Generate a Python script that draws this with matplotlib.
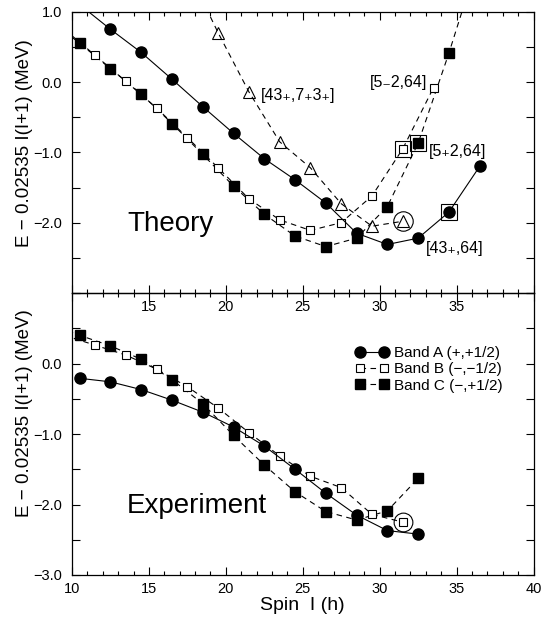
import numpy as np
import matplotlib
matplotlib.use("Agg")
import matplotlib.pyplot as plt
from matplotlib.ticker import MultipleLocator

plt.rcParams['font.family'] = ['Liberation Sans', 'DejaVu Sans']
plt.rcParams['axes.unicode_minus'] = True

# theory (cranking calculation)
th_a_spin = [10.5, 12.5, 14.5, 16.5, 18.5, 20.5, 22.5, 24.5, 26.5, 28.5, 30.5, 32.5, 34.5, 36.5]
th_a_e = [1.10, 0.75, 0.42, 0.04, -0.35, -0.73, -1.09, -1.39, -1.72, -2.15, -2.31, -2.22, -1.85, -1.20]
th_b_spin = [9.5, 11.5, 13.5, 15.5, 17.5, 19.5, 21.5, 23.5, 25.5, 27.5, 29.5, 31.5, 33.5]
th_b_e = [0.75, 0.38, 0.01, -0.37, -0.79, -1.22, -1.66, -1.96, -2.11, -2.00, -1.62, -0.95, -0.08]
th_c_spin = [8.5, 10.5, 12.5, 14.5, 16.5, 18.5, 20.5, 22.5, 24.5, 26.5, 28.5, 30.5, 32.5, 34.5, 36.5]
th_c_e = [0.90, 0.55, 0.19, -0.17, -0.59, -1.03, -1.48, -1.88, -2.19, -2.34, -2.22, -1.77, -0.87, 0.41, 1.80]
th_d_spin = [17.5, 19.5, 21.5, 23.5, 25.5, 27.5, 29.5, 31.5]
th_d_e = [1.60, 0.70, -0.14, -0.85, -1.22, -1.73, -2.05, -1.98]

# experiment
ex_a_spin = [10.5, 12.5, 14.5, 16.5, 18.5, 20.5, 22.5, 24.5, 26.5, 28.5, 30.5, 32.5]
ex_a_e = [-0.21, -0.26, -0.37, -0.52, -0.69, -0.90, -1.17, -1.50, -1.84, -2.15, -2.37, -2.42]
ex_b_spin = [9.5, 11.5, 13.5, 15.5, 17.5, 19.5, 21.5, 23.5, 25.5, 27.5, 29.5, 31.5]
ex_b_e = [0.40, 0.26, 0.12, -0.08, -0.33, -0.63, -0.98, -1.31, -1.60, -1.76, -2.14, -2.25]
ex_c_spin = [8.5, 10.5, 12.5, 14.5, 16.5, 18.5, 20.5, 22.5, 24.5, 26.5, 28.5, 30.5, 32.5]
ex_c_e = [0.55, 0.40, 0.25, 0.06, -0.23, -0.57, -1.02, -1.44, -1.82, -2.10, -2.22, -2.09, -1.63]

# highlighted points (spin values)
th_box_b = 31.5
th_box_c = 32.5
th_box_a = 34.5
th_ring_d = 31.5
ex_ring_b = 31.5

ylab = 'E \u2212 0.02535 I(I+1) (MeV)'
dash = (0, (5, 4))
lw = 0.8
sub_p = '\u208a'
sub_m = '\u208b'

fig = plt.figure(figsize=(5.54, 6.21), dpi=100)
L, R = 72 / 554, 533.5 / 554
ax1 = fig.add_axes([L, 1 - 293 / 621, R - L, (293 - 11.7) / 621])
ax2 = fig.add_axes([L, 1 - 575 / 621, R - L, (575 - 293) / 621])
ax2.patch.set_visible(False)


def pick(sp, ee, s):
    return ee[sp.index(s)]


# ---- theory panel
ax1.plot(th_c_spin, th_c_e, color='k', lw=lw, ls=dash, marker='s', ms=6.5, mfc='k', mec='k')
ax1.plot(th_b_spin, th_b_e, color='k', lw=lw, ls=dash, marker='s', ms=6.2, mfc='white', mec='k', mew=0.8)
ax1.plot(th_d_spin, th_d_e, color='k', lw=lw, ls=dash, marker='^', ms=8, mfc='none', mec='k', mew=0.8)
ax1.plot(th_a_spin, th_a_e, color='k', lw=lw, ls='-', marker='o', ms=8, mfc='k', mec='k')

ax1.plot([th_box_b], [pick(th_b_spin, th_b_e, th_box_b)], marker='s', ms=11, mfc='none', mec='k', mew=0.8)
ax1.plot([th_box_c], [pick(th_c_spin, th_c_e, th_box_c)], marker='s', ms=11, mfc='none', mec='k', mew=0.8)
ax1.plot([th_box_a], [pick(th_a_spin, th_a_e, th_box_a)], marker='s', ms=12, mfc='none', mec='k', mew=0.8)
ax1.plot([th_ring_d], [pick(th_d_spin, th_d_e, th_ring_d)], marker='o', ms=14, mfc='none', mec='k', mew=0.8)

ax1.text(22.3, -0.25, '[43' + sub_p + ',7' + sub_p + '3' + sub_p + ']', fontsize=11.5)
ax1.text(33.1, -0.07, '[5' + sub_m + '2,64]', fontsize=11.5, ha='right')
ax1.text(33.2, -1.05, '[5' + sub_p + '2,64]', fontsize=11.5)
ax1.text(33.0, -2.43, '[43' + sub_p + ',64]', fontsize=11.5)
ax1.text(13.6, -2.12, 'Theory', fontsize=20)

ax1.set_xlim(10, 40)
ax1.set_ylim(-3.0, 1.0)
ax1.set_yticks([-3, -2, -1, 0, 1])
ax1.set_yticklabels(['', '\u22122.0', '\u22121.0', '0.0', '1.0'])
ax1.set_xticks([10, 15, 20, 25, 30, 35, 40])
ax1.set_xticklabels(['', '15', '20', '25', '30', '35', ''])

# ---- experiment panel
ax2.plot(ex_c_spin, ex_c_e, color='k', lw=lw, ls=dash, marker='s', ms=6.5, mfc='k', mec='k',
         label='Band C (\u2212,+1/2)')
ax2.plot(ex_b_spin, ex_b_e, color='k', lw=lw, ls=dash, marker='s', ms=6.2, mfc='white', mec='k', mew=0.8,
         label='Band B (\u2212,\u22121/2)')
ax2.plot(ex_a_spin, ex_a_e, color='k', lw=lw, ls='-', marker='o', ms=8, mfc='k', mec='k',
         label='Band A (+,+1/2)')
ax2.plot([ex_ring_b], [pick(ex_b_spin, ex_b_e, ex_ring_b)], marker='o', ms=13.5, mfc='none', mec='k', mew=0.8)

ax2.text(13.55, -2.12, 'Experiment', fontsize=20)

ax2.set_xlim(10, 40)
ax2.set_ylim(-3.0, 1.0)
ax2.set_yticks([-3, -2, -1, 0, 1])
ax2.set_yticklabels(['\u22123.0', '\u22122.0', '\u22121.0', '0.0', ''])
ax2.set_xticks([10, 15, 20, 25, 30, 35, 40])
ax2.set_xticklabels(['10', '15', '20', '25', '30', '35', '40'])
ax2.set_xlabel('Spin  I (h)', fontsize=14, labelpad=1)

h, lb = ax2.get_legend_handles_labels()
ax2.legend(h[::-1], lb[::-1], loc='upper left', bbox_to_anchor=(355 / 554, 1 - 346 / 621),
           bbox_transform=fig.transFigure, frameon=False, fontsize=11, numpoints=2,
           handlelength=2.2, handletextpad=0.35, labelspacing=0.15, borderpad=0, borderaxespad=0)

for ax in (ax1, ax2):
    ax.xaxis.set_minor_locator(MultipleLocator(1))
    ax.yaxis.set_minor_locator(MultipleLocator(0.5))
    ax.tick_params(which='both', direction='in', top=True, right=True, labelsize=10.5, width=0.8)
    ax.tick_params(which='major', length=5.5)
    ax.tick_params(which='minor', length=3)
    ax.tick_params(axis='y', which='minor', length=5.5)
    ax.tick_params(axis='x', pad=5)
    ax.tick_params(axis='y', pad=7)
    for sp in ax.spines.values():
        sp.set_linewidth(0.9)

fig.text(25 / 554, 1 - 143 / 621, ylab, rotation=90, ha='center', va='center', fontsize=13.5)
fig.text(25 / 554, 1 - 413 / 621, ylab, rotation=90, ha='center', va='center', fontsize=13.5)

fig.savefig('out.png', dpi=100)
